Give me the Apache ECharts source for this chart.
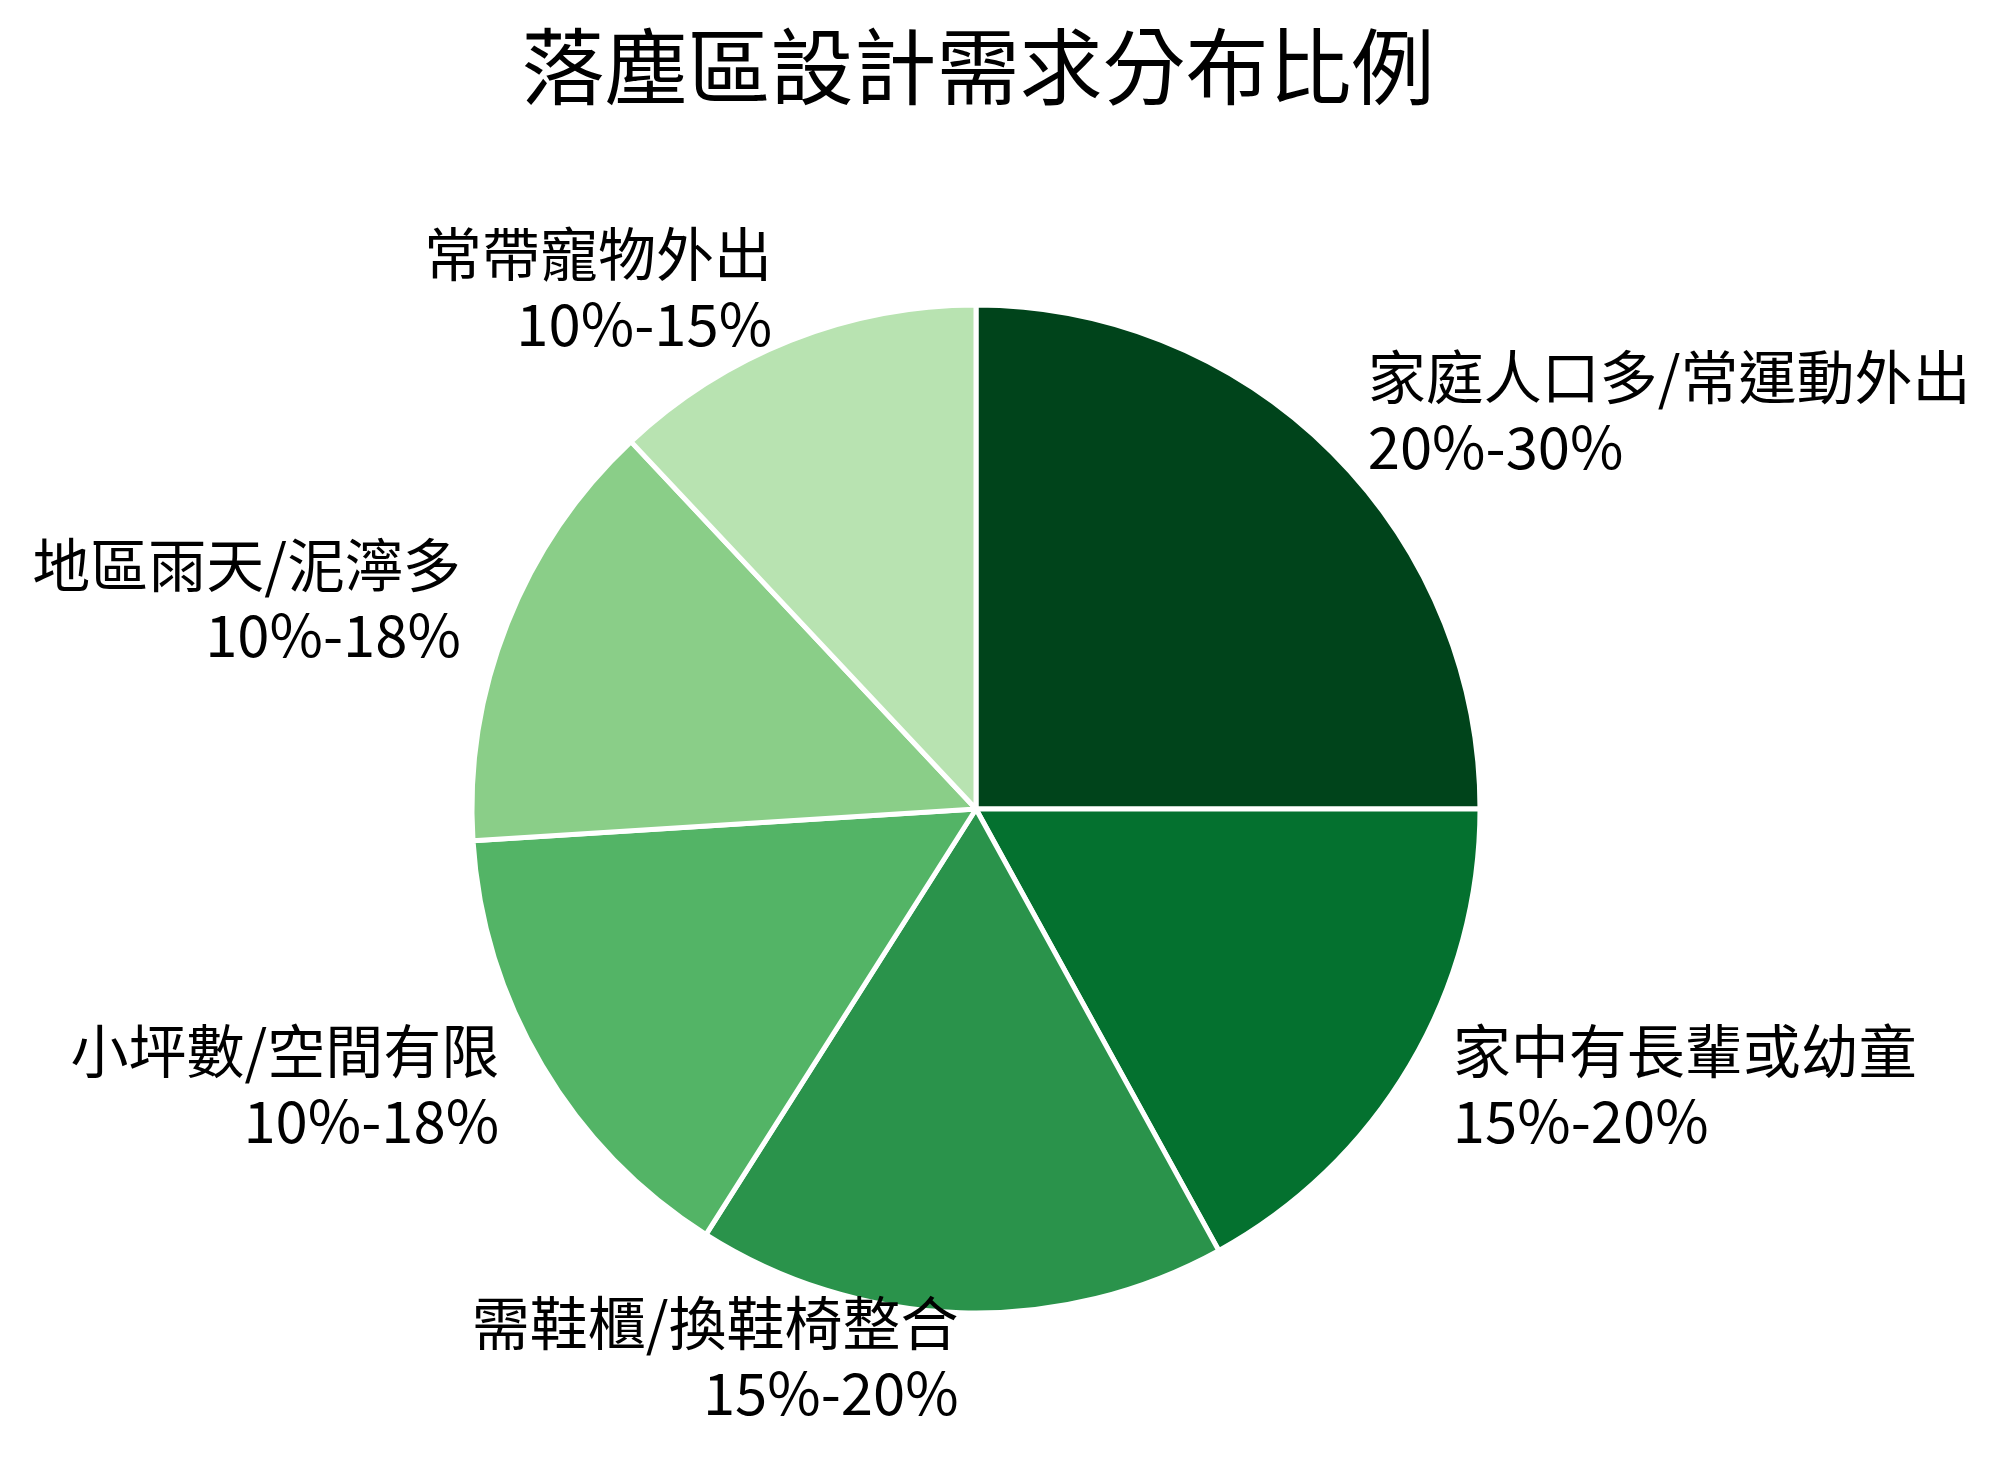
<!DOCTYPE html>
<html>
<head>
<meta charset="utf-8">
<title>落塵區設計需求分布比例</title>
<script src="https://cdn.jsdelivr.net/npm/echarts@6/dist/echarts.min.js"></script>
<style>
html,body{margin:0;padding:0;background:#fff;}
#main{width:2003px;height:1468px;}
</style>
</head>
<body>
<div id="main"></div>
<script>
// 各需求的名稱、比例與區間
var names = ['家庭人口多/常運動外出', '家中有長輩或幼童', '需鞋櫃/換鞋椅整合', '小坪數/空間有限', '地區雨天/泥濘多', '常帶寵物外出'];
var values = [25, 17, 17, 15, 14, 12];
var ranges = ['20%-30%', '15%-20%', '15%-20%', '10%-18%', '10%-18%', '10%-15%'];
var colors = ['#00441b', '#04712f', '#2a934b', '#53b466', '#8ace88', '#b8e3b1'];

var FONT = '"Noto Sans CJK TC", "Noto Sans CJK SC", sans-serif';

var pieData = [];
for (var i = 0; i < names.length; i++) {
	pieData.push({ name: names[i], value: values[i], itemStyle: { color: colors[i] } });
}

var myChart = echarts.init(document.getElementById('main'));

var option = {
	backgroundColor: '#ffffff',
	animation: false,
	title: {
		text: '落塵區設計需求分布比例',
		left: 973,
		top: 20,
		textAlign: 'center',
		textStyle: { fontFamily: FONT, fontSize: 83, fontWeight: 'normal', color: '#000' }
	},
	series: [{
		type: 'pie',
		center: [976, 809],
		radius: 504,
		startAngle: 90,
		clockwise: true,
		avoidLabelOverlap: false,
		itemStyle: { borderColor: '#ffffff', borderWidth: 5 },
		label: {
			show: true,
			position: 'outside',
			alignTo: 'none',
			distanceToLabelLine: 0,
			fontFamily: FONT,
			fontSize: 58,
			lineHeight: 70,
			color: '#000',
			formatter: function (p) {
				// 底部加一行空白小字，讓兩行文字整體略往上
				return '{t|' + p.name + '}\n{t|' + ranges[p.dataIndex] + '}\n{s|}';
			},
			rich: {
				t: { fontFamily: FONT, fontSize: 58, lineHeight: 70, color: '#000' },
				s: { fontSize: 1, lineHeight: 10 }
			}
		},
		labelLine: { show: false, length: 50, length2: 0 },
		emphasis: { disabled: true },
		data: pieData
	}]
};

myChart.setOption(option);
</script>
</body>
</html>
